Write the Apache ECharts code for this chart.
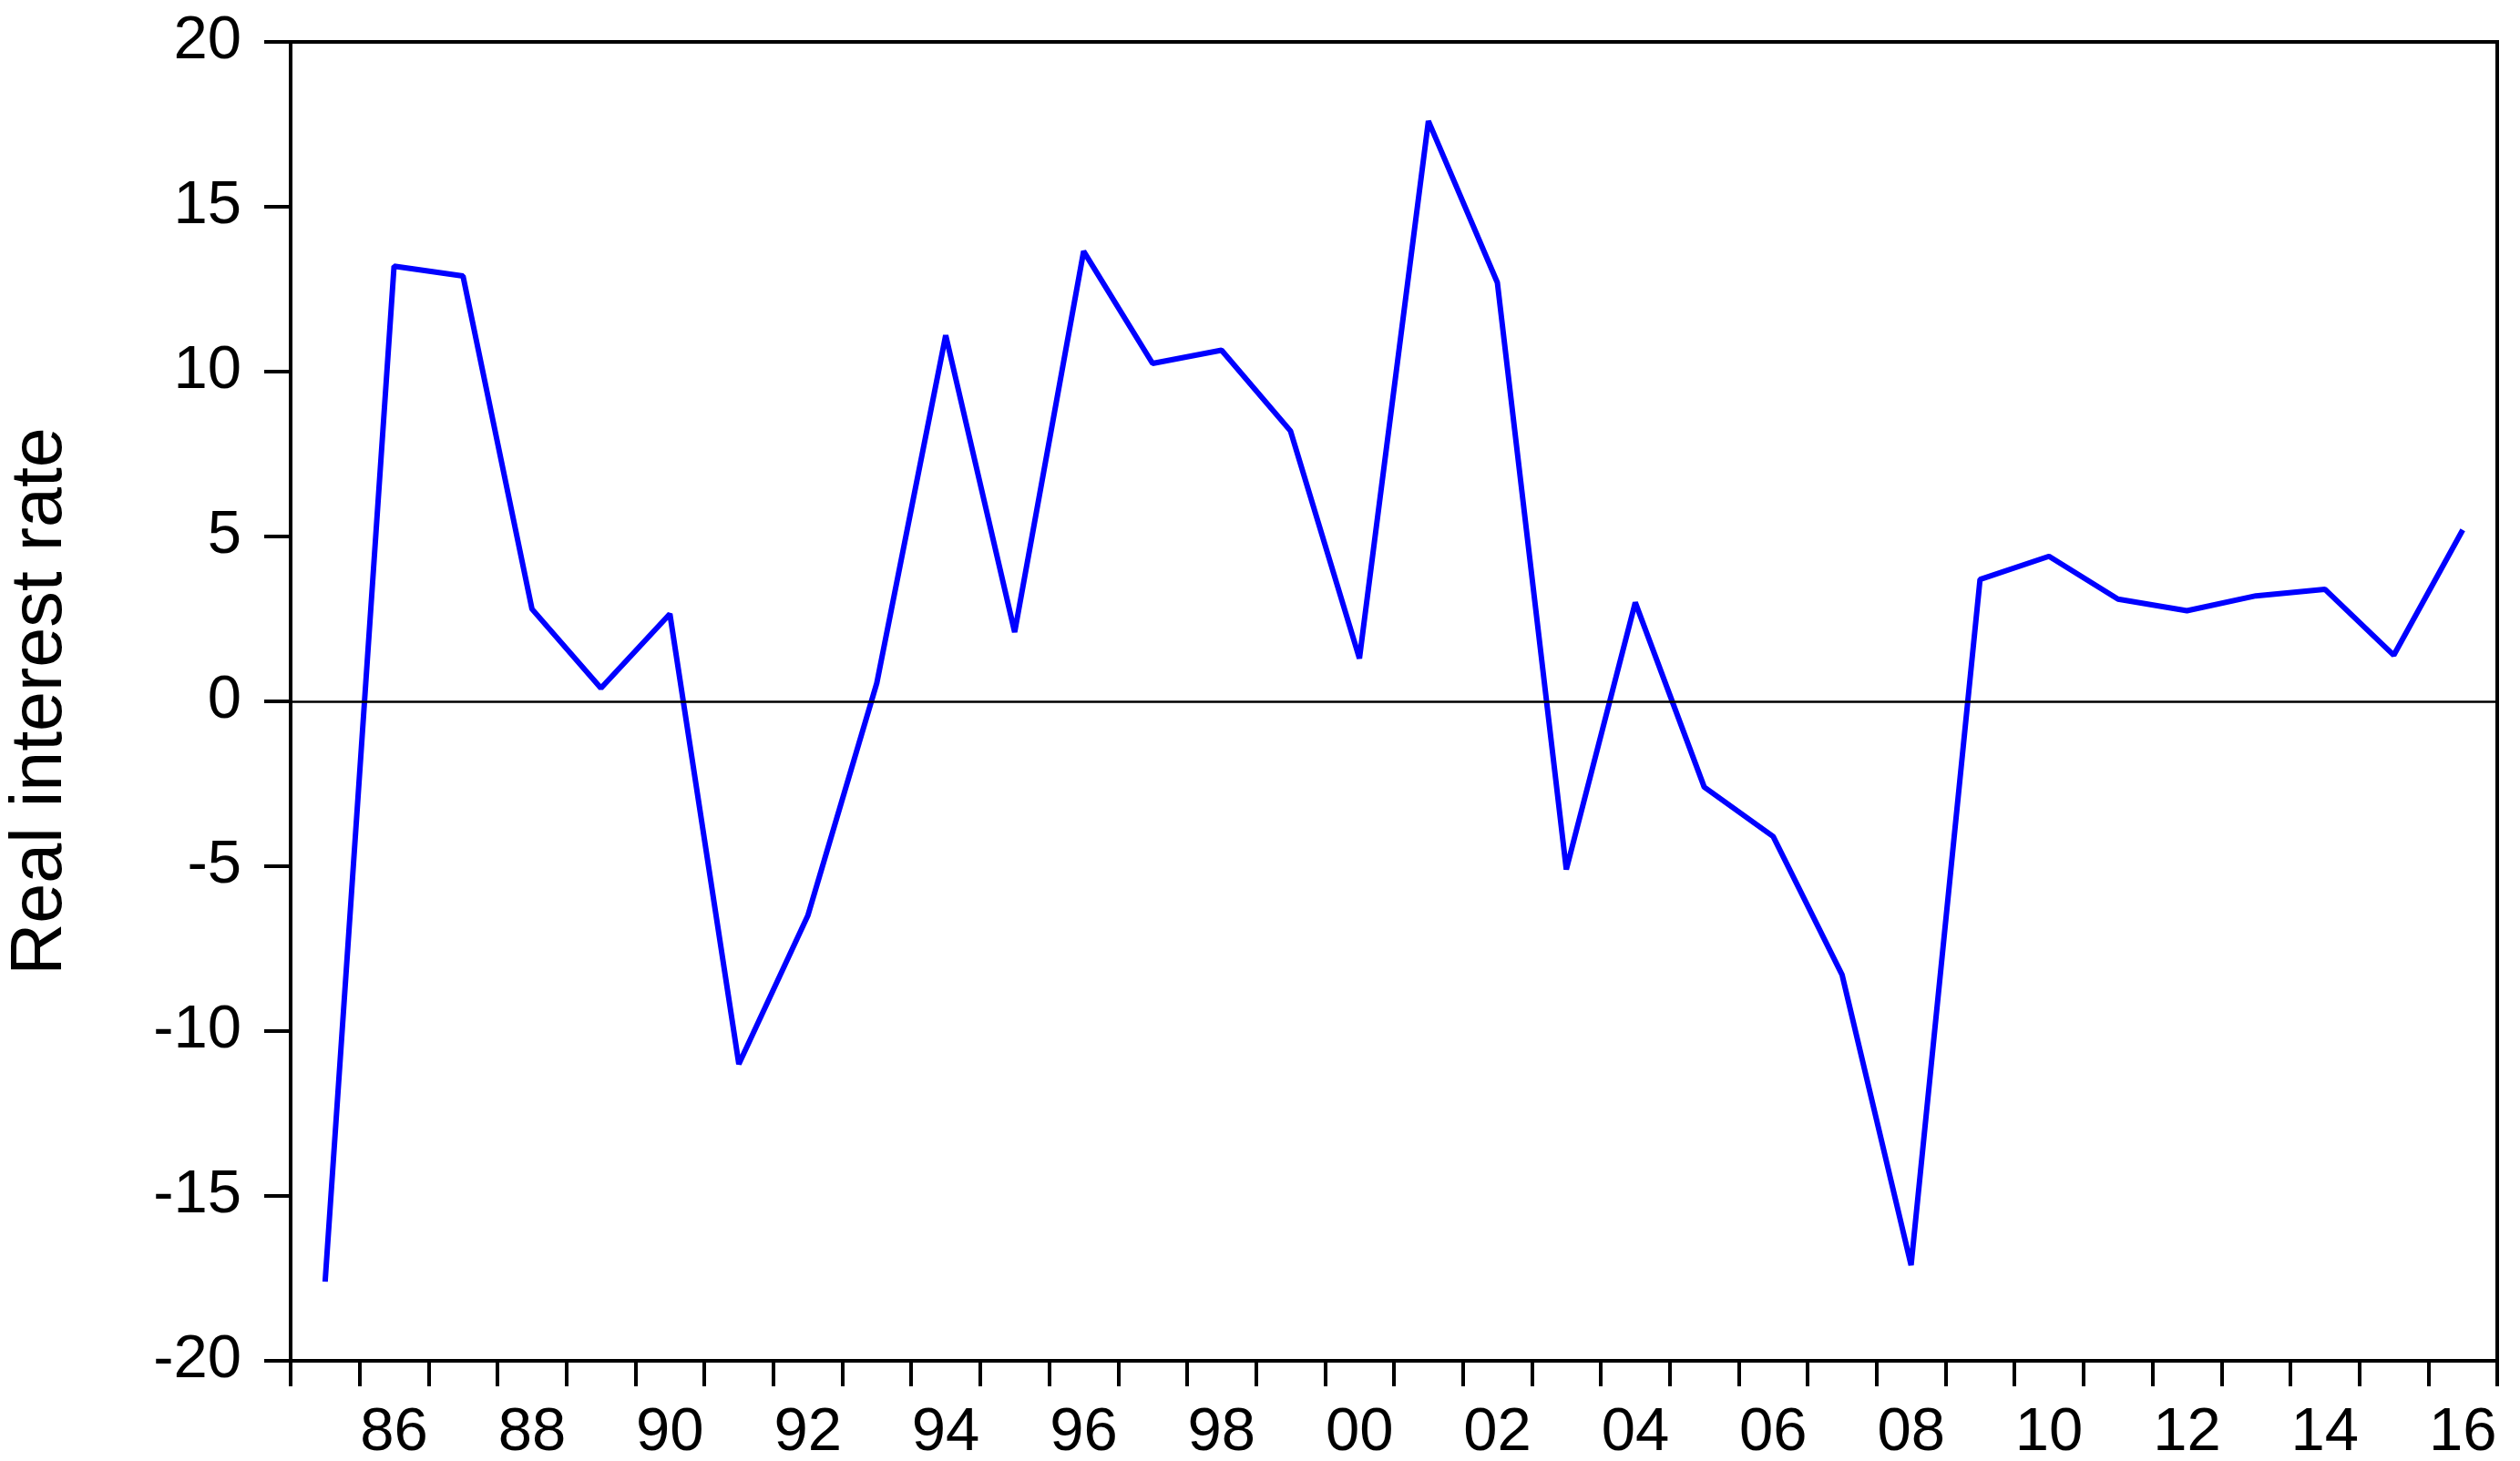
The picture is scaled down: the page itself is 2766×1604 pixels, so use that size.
<!DOCTYPE html>
<html>
<head>
<meta charset="utf-8">
<script src="https://cdn.jsdelivr.net/npm/echarts@6/dist/echarts.min.js"></script>
<style>html,body{margin:0;padding:0;background:#fff;}#c{width:2766px;height:1604px;}</style>
</head>
<body>
<div id="c"></div>
<script>
const years = ['1985','1986','1987','1988','1989','1990','1991','1992','1993','1994','1995','1996','1997','1998','1999','2000','2001','2002','2003','2004','2005','2006','2007','2008','2009','2010','2011','2012','2013','2014','2015','2016'];
const realRate = [-17.6, 13.2, 12.9, 2.8, 0.4, 2.65, -11.0, -6.5, 0.55, 11.1, 2.1, 13.65, 10.25, 10.65, 8.2, 1.3, 17.6, 12.7, -5.1, 3.0, -2.6, -4.1, -8.3, -17.1, 3.7, 4.4, 3.1, 2.75, 3.2, 3.4, 1.4, 5.2];
const yTicks = [-20, -15, -10, -5, 0, 5, 10, 15, 20];
const yName = 'Real interest rate';

const chart = echarts.init(document.getElementById('c'));
const font = 'Liberation Sans, Arial, sans-serif';
chart.setOption({
  animation: false,
  backgroundColor: '#fff',
  grid: {left: 319, right: 25, top: 46, bottom: 110, containLabel: false, outerBoundsMode: 'none', show: true, borderColor: '#000', borderWidth: 4, backgroundColor: 'transparent'},
  xAxis: {
    type: 'category',
    data: years,
    boundaryGap: true,
    axisLine: {onZero: false, lineStyle: {color: '#000', width: 4}},
    axisTick: {show: true, interval: 0, length: 28, inside: false, lineStyle: {color: '#000', width: 4}},
    axisLabel: {
      interval: function (i) { return i % 2 === 1; },
      formatter: function (v) { return v.slice(2); },
      fontSize: 67, fontFamily: font, color: '#000', margin: 46
    },
    splitLine: {show: false}
  },
  yAxis: {
    type: 'value',
    min: yTicks[0], max: yTicks[yTicks.length - 1], interval: 5,
    name: yName,
    nameLocation: 'middle',
    nameRotate: 90,
    nameGap: 234,
    nameTextStyle: {fontSize: 79, fontFamily: font, color: '#000'},
    axisLine: {show: true, onZero: false, lineStyle: {color: '#000', width: 4}},
    axisTick: {show: true, length: 29, lineStyle: {color: '#000', width: 4}},
    axisLabel: {fontSize: 67, fontFamily: font, color: '#000', margin: 54},
    splitLine: {show: false}
  },
  series: [{
    type: 'line',
    data: realRate,
    symbol: 'none',
    lineStyle: {color: '#0000ff', width: 6},
    markLine: {
      silent: true,
      symbol: 'none',
      label: {show: false},
      lineStyle: {color: '#000', width: 2.5, type: 'solid'},
      data: [{yAxis: 0}]
    }
  }]
});
</script>
</body>
</html>
